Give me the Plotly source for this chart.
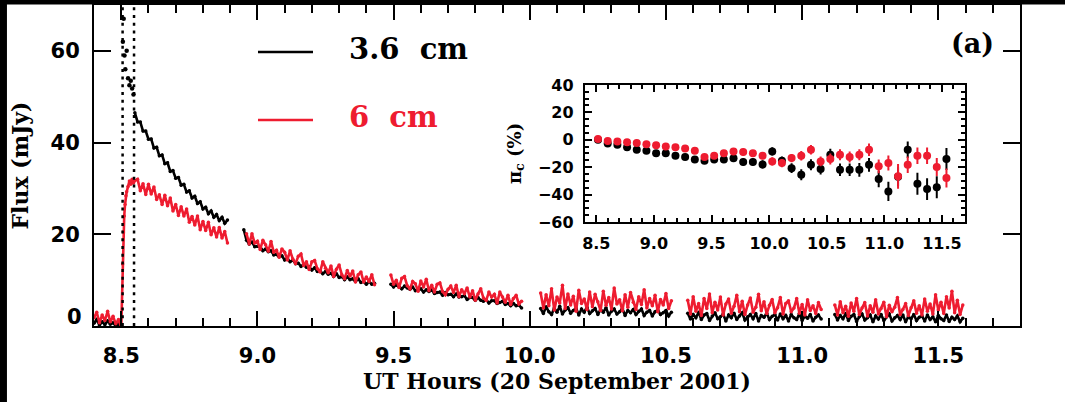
import plotly.graph_objects as go

STEP = 0.01  # hours between samples inside a segment

# ---------------- 3.6 cm light curve (mJy) ----------------
b36_pre_t0 = 8.40
b36_pre = [0.6, 1.4, 0.2, 0.9, 0.3, 1.1, 0.4, 0.7, 0.0, 0.5, -0.8]
b36_spike_t = [8.506, 8.509, 8.512, 8.515, 8.520, 8.525, 8.530, 8.535, 8.540, 8.545]
b36_spike = [62.0, 67.0, 59.0, 56.0, 60.0, 54.0, 52.5, 53.5, 51.8, 50.5]
b36_decay_t0 = 8.55
b36_decay = [46.5, 44.5, 44.5, 42.5, 42.5, 40.7, 40.8, 38.8, 39.0, 37.1, 37.3, 35.4,
             35.6, 33.7, 33.9, 32.2, 32.4, 30.7, 30.9, 29.2, 29.5, 27.9, 28.3, 26.7,
             27.1, 25.5, 25.9, 24.5, 25.1, 23.7, 24.3, 23.0, 23.7, 22.4, 23.1]
b36_s2_t0 = 8.95
b36_s2 = [21.0, 18.7, 17.9, 18.3, 17.3, 17.4, 17.3, 16.4, 16.8, 16.2, 16.4, 15.5, 15.6,
          15.1, 15.3, 14.4, 14.7, 14.0, 14.4, 13.6, 13.7, 13.0, 13.4, 12.8, 12.9, 12.2,
          12.7, 11.9, 12.0, 11.4, 11.9, 11.3, 11.5, 10.8, 11.4, 10.6, 10.8, 10.1, 10.7,
          10.1, 10.3, 9.7, 10.3, 9.5, 9.7, 9.1, 9.7, 9.1, 9.3]
b36_s3_t0 = 9.49
b36_s3 = [9.1, 8.5, 9.1, 8.5, 8.1, 8.7, 8.3, 8.0, 8.5, 7.7, 8.0, 8.1, 7.4, 7.9, 7.5, 7.9,
          7.1, 7.3, 7.4, 6.7, 7.3, 6.8, 6.9, 6.4, 7.0, 6.3, 6.4, 6.6, 5.8, 6.2, 6.2, 5.6,
          6.2, 5.6, 5.4, 5.8, 5.0, 5.5, 5.5, 4.9, 5.1, 5.4, 4.7, 4.9, 4.4, 4.9, 4.4, 4.6, 3.9]
b36_s4_t0 = 10.04
b36_s4 = [3.8, 2.7, 4.2, 3.1, 2.5, 3.9, 3.0, 4.3, 2.6, 3.5, 4.0, 2.8, 3.4, 3.9, 2.4, 3.7,
          3.0, 4.1, 2.7, 3.3, 3.8, 2.5, 3.6, 3.0, 4.0, 2.4, 3.2, 3.7, 2.6, 3.1, 3.8, 2.3,
          3.4, 2.9, 3.6, 2.5, 3.2, 3.7, 2.3, 3.0, 3.4, 2.2, 3.1, 3.5, 2.5, 2.9, 3.4, 2.2, 3.0]
b36_s5_t0 = 10.58
b36_s5 = [2.8, 1.5, 2.5, 1.8, 3.0, 1.4, 2.4, 2.7, 1.2, 2.2, 2.9, 1.6, 2.0, 2.6, 1.1, 2.4,
          1.8, 2.8, 1.4, 2.2, 2.9, 1.3, 2.0, 2.5, 1.6, 2.7, 1.1, 2.3, 1.9, 2.8, 1.4, 2.1,
          2.5, 1.3, 2.6, 1.6, 2.3, 1.1, 2.5, 1.8, 1.4, 2.7, 1.2, 2.1, 1.7, 2.5, 1.1, 1.9, 2.4, 1.5]
b36_s6_t0 = 11.12
b36_s6 = [2.5, 1.3, 2.3, 1.6, 2.7, 1.2, 2.1, 2.5, 1.0, 2.0, 2.6, 1.3, 1.8, 2.4, 0.9, 2.2,
          1.5, 2.5, 1.2, 2.0, 2.6, 1.1, 1.8, 2.3, 1.4, 2.4, 0.9, 2.0, 1.6, 2.5, 1.2, 1.9,
          2.2, 1.1, 2.4, 1.4, 2.0, 0.9, 2.3, 1.6, 1.2, 2.4, 1.0, 1.9, 1.4, 2.2, 0.9, 1.7]

# ---------------- 6 cm light curve (mJy) ----------------
r6_pre_t0 = 8.40
r6_pre = [1.8, 3.0, 0.7, 2.4, 1.2, 3.2, 0.9, 2.1, 0.5, 1.4, -0.3]
r6_rise_t = [8.505, 8.508, 8.511, 8.514, 8.517, 8.520, 8.525, 8.530, 8.535, 8.540, 8.545, 8.550]
r6_rise = [13.5, 20.5, 24.0, 26.5, 28.4, 29.3, 30.4, 31.6, 30.9, 32.0, 31.2, 31.7]
r6_decay_t0 = 8.56
r6_decay = [32.0, 29.5, 31.0, 28.7, 30.9, 28.8, 30.3, 27.6, 28.6, 26.5, 28.5, 26.2, 27.9,
            25.1, 26.5, 24.1, 26.0, 24.0, 25.5, 22.6, 23.9, 22.0, 24.0, 21.0, 22.8, 20.8,
            22.6, 19.9, 21.4, 19.4, 21.5, 19.2, 20.6, 18.1]
r6_s2_t0 = 8.96
r6_s2 = [20.1, 17.9, 20.1, 18.1, 18.5, 16.7, 18.7, 17.7, 16.3, 18.4, 16.1, 16.5, 15.0,
         16.8, 16.1, 14.4, 16.4, 14.6, 13.6, 15.2, 15.7, 13.2, 14.0, 12.3, 14.0, 14.3,
         12.5, 11.8, 14.0, 12.6, 11.6, 13.1, 10.8, 12.4, 13.3, 11.2, 10.3, 12.1, 10.9,
         12.0, 9.6, 11.2, 11.8, 9.6, 10.7, 9.7, 11.2, 9.0]
r6_s3_t0 = 9.49
r6_s3 = [11.1, 9.1, 10.0, 8.4, 10.4, 10.8, 8.8, 8.1, 9.7, 9.2, 7.6, 9.8, 8.5, 10.2, 7.7,
         8.9, 7.4, 9.1, 9.4, 7.5, 6.8, 8.0, 8.7, 7.3, 8.9, 6.4, 7.9, 7.1, 8.3, 6.3, 7.7,
         5.6, 7.0, 8.1, 6.1, 5.6, 7.4, 6.3, 6.9, 5.0, 7.4, 6.3, 5.2, 6.7, 4.7, 6.0, 6.7, 4.8, 5.4]
r6_s4_t0 = 10.04
r6_s4 = [7.2, 3.9, 6.8, 4.4, 8.1, 3.5, 6.3, 5.0, 8.9, 3.8, 7.0, 4.6, 6.5, 3.2, 7.8, 4.9,
         5.9, 3.6, 7.4, 4.2, 6.9, 5.3, 3.4, 7.6, 4.5, 6.2, 3.7, 8.3, 4.8, 5.7, 3.3, 6.8,
         4.1, 7.3, 5.2, 3.6, 6.4, 4.7, 7.9, 3.9, 6.0, 4.4, 6.7, 3.1, 5.8, 4.6, 7.1, 3.8, 5.5]
r6_s5_t0 = 10.58
r6_s5 = [5.6, 2.6, 6.4, 3.2, 4.9, 2.3, 6.0, 3.8, 7.0, 2.9, 5.2, 3.5, 6.3, 2.4, 4.8, 5.9,
         2.8, 4.3, 6.7, 3.1, 5.4, 2.5, 4.6, 6.1, 3.0, 4.1, 6.9, 3.3, 5.3, 2.7, 4.5, 5.8,
         2.9, 4.0, 6.2, 2.6, 4.9, 5.5, 3.1, 3.9, 6.0, 2.8, 4.7, 2.4, 5.7, 3.4, 4.4, 2.7, 5.1, 3.6]
r6_s6_t0 = 11.12
r6_s6 = [4.6, 2.4, 5.3, 2.9, 4.3, 2.1, 5.0, 3.2, 6.0, 2.5, 3.9, 5.1, 2.2, 4.4, 3.0, 5.7,
         2.6, 3.8, 5.2, 2.0, 4.5, 3.1, 4.1, 6.2, 2.5, 3.6, 4.9, 2.3, 4.0, 5.5, 2.8, 4.4,
         2.4, 5.9, 3.2, 4.8, 2.6, 6.8, 3.5, 5.2, 2.7, 6.4, 3.9, 7.6, 2.9, 5.6, 2.5, 4.6]

# flare markers (UT hours)
flare_marks = [8.505, 8.547]

# ---------------- inset: circular polarization (%) ----------------
pol_t = [8.515, 8.599, 8.683, 8.767, 8.851, 8.935, 9.019, 9.103, 9.187, 9.271, 9.355,
         9.439, 9.523, 9.607, 9.691, 9.775, 9.859, 9.943, 10.027, 10.111, 10.195, 10.279,
         10.363, 10.447, 10.531, 10.615, 10.699, 10.783, 10.867, 10.951, 11.035, 11.119,
         11.203, 11.287, 11.371, 11.455, 11.539]
pol_36 = [0.0, -2.7, -3.6, -5.4, -7.2, -8.1, -9.9, -9.9, -11.7, -12.6, -14.4, -15.3,
          -14.4, -14.4, -13.5, -16.2, -16.2, -18.0, -8.5, -15.3, -20.7, -25.5, -18.3,
          -21.4, -11.0, -21.9, -21.9, -21.9, -18.3, -28.7, -37.7, -27.0, -7.3, -32.1,
          -36.0, -34.6, -14.1]
err_36 = [1.5, 1.5, 1.5, 1.5, 1.5, 2, 2, 2, 2, 2, 2, 2, 2.5, 2.5, 2.5, 2.5, 2.5, 3, 3, 3,
          3.5, 4, 4, 4, 4.5, 4.5, 4.5, 5, 5, 6, 7, 7, 6, 8, 8, 8, 8]
pol_6 = [0.5, -0.9, -1.3, -1.8, -2.3, -3.2, -4.0, -5.0, -5.4, -6.3, -8.1, -12.6, -11.7,
         -9.9, -8.6, -9.0, -9.9, -11.7, -15.8, -17.0, -13.4, -11.7, -7.3, -15.8, -14.1,
         -11.0, -12.6, -11.0, -7.3, -19.4, -17.0, -26.7, -18.3, -11.7, -11.7, -19.9, -27.9]
err_6 = [1, 1, 1, 1, 1.5, 1.5, 1.5, 1.5, 1.5, 2, 2, 2, 2, 2, 2, 2.5, 2.5, 2.5, 3, 3, 3,
         3.5, 3.5, 3.5, 4, 4, 4, 4, 4.5, 5, 5.5, 9, 6, 6, 6, 6.5, 7]

flux_ticks = [0, 20, 40, 60]
pol_ticks = [-60, -40, -20, 0, 20, 40]

BLACK = "#000000"
RED = "#ee1c30"


def grid(t0, vals):
    return [round(t0 + STEP * i, 4) for i in range(len(vals))]


def join(parts):
    xs, ys = [], []
    for i, (t, v) in enumerate(parts):
        if i:
            xs.append(None)
            ys.append(None)
        xs.extend(t)
        ys.extend(v)
    return xs, ys


bx, by = join([
    (grid(b36_pre_t0, b36_pre), b36_pre),
    (grid(b36_decay_t0, b36_decay), b36_decay),
    (grid(b36_s2_t0, b36_s2), b36_s2),
    (grid(b36_s3_t0, b36_s3), b36_s3),
    (grid(b36_s4_t0, b36_s4), b36_s4),
    (grid(b36_s5_t0, b36_s5), b36_s5),
    (grid(b36_s6_t0, b36_s6), b36_s6),
])
rx, ry = join([
    (grid(r6_pre_t0, r6_pre) + r6_rise_t + grid(r6_decay_t0, r6_decay),
     r6_pre + r6_rise + r6_decay),
    (grid(r6_s2_t0, r6_s2), r6_s2),
    (grid(r6_s3_t0, r6_s3), r6_s3),
    (grid(r6_s4_t0, r6_s4), r6_s4),
    (grid(r6_s5_t0, r6_s5), r6_s5),
    (grid(r6_s6_t0, r6_s6), r6_s6),
])

fig = go.Figure()
fig.add_trace(go.Scatter(x=bx, y=by, mode="lines+markers", name="3.6 cm",
                         line=dict(color=BLACK, width=2.6),
                         marker=dict(color=BLACK, size=3.5),
                         connectgaps=False, xaxis="x", yaxis="y"))
fig.add_trace(go.Scatter(x=b36_spike_t, y=b36_spike, mode="markers", name="3.6 cm peak",
                         marker=dict(color=BLACK, size=4.5), xaxis="x", yaxis="y"))
fig.add_trace(go.Scatter(x=rx, y=ry, mode="lines+markers", name="6 cm",
                         line=dict(color=RED, width=2.6),
                         marker=dict(color=RED, size=3.5),
                         connectgaps=False, xaxis="x", yaxis="y"))

fig.add_trace(go.Scatter(x=pol_t, y=pol_36, mode="markers", xaxis="x2", yaxis="y2",
                         marker=dict(color=BLACK, size=8),
                         error_y=dict(type="data", array=err_36, color=BLACK,
                                      thickness=2, width=0)))
fig.add_trace(go.Scatter(x=pol_t, y=pol_6, mode="markers", xaxis="x2", yaxis="y2",
                         marker=dict(color=RED, size=8),
                         error_y=dict(type="data", array=err_6, color=RED,
                                      thickness=2, width=0)))

TICKFONT = dict(family="DejaVu Sans", size=21, color="black", weight="bold")
TITLEFONT = dict(family="DejaVu Serif", size=22, color="black", weight="bold")
INSETFONT = dict(family="DejaVu Sans", size=16, color="black", weight="bold")

fig.update_layout(
    width=1065, height=402,
    margin=dict(l=94, r=45, t=5, b=76, autoexpand=False),
    paper_bgcolor="white", plot_bgcolor="white",
    showlegend=False,
    xaxis=dict(range=[8.4, 11.8], tick0=8.5, dtick=0.5, tickformat=".1f",
               ticks="inside", ticklen=15, tickwidth=2, tickcolor="black",
               minor=dict(ticks="inside", dtick=0.1, tick0=8.5, ticklen=8,
                          tickwidth=2, tickcolor="black"),
               showline=True, linewidth=2, linecolor="black", mirror="ticks",
               showgrid=False, zeroline=False, tickfont=TICKFONT,
               ticklabelstandoff=10, automargin=False,
               title=dict(text="UT Hours (20 September 2001)", font=TITLEFONT,
                          standoff=6)),
    yaxis=dict(range=[0, 70], tickvals=flux_ticks,
               ticktext=["" if v == 0 else str(v) for v in flux_ticks],
               ticks="inside", ticklen=17, tickwidth=2, tickcolor="black",
               showline=True, linewidth=2, linecolor="black", mirror="ticks",
               showgrid=False, zeroline=False, tickfont=TICKFONT,
               ticklabelstandoff=8, automargin=False,
               title=dict(text="Flux (mJy)", font=TITLEFONT, standoff=16)),
    xaxis2=dict(domain=[0.530, 0.9406], anchor="y2", range=[8.4, 11.7],
                tick0=8.5, dtick=0.5, tickformat=".1f",
                ticks="inside", ticklen=7, tickwidth=1.5, tickcolor="black",
                minor=dict(ticks="inside", dtick=0.1, tick0=8.5, ticklen=4,
                           tickwidth=1.5, tickcolor="black"),
                showline=True, linewidth=2, linecolor="black", mirror="ticks",
                showgrid=False, zeroline=False, tickfont=INSETFONT,
                ticklabelstandoff=6, automargin=False),
    yaxis2=dict(domain=[0.324, 0.751], anchor="x2", range=[-60, 40],
                tickvals=pol_ticks,
                ticks="inside", ticklen=7, tickwidth=1.5, tickcolor="black",
                minor=dict(ticks="inside", dtick=5, tick0=0, ticklen=4,
                           tickwidth=1.5, tickcolor="black"),
                showline=True, linewidth=2, linecolor="black", mirror="ticks",
                showgrid=False, zeroline=False, tickfont=INSETFONT,
                ticklabelstandoff=6, automargin=False,
                title=dict(text="π<sub>c</sub> (%)",
                           font=dict(family="DejaVu Serif", size=18,
                                     color="black", weight="bold"),
                           standoff=12)),
)

shapes = []
for xm in flare_marks:
    shapes.append(dict(type="line", xref="x", yref="paper", x0=xm, x1=xm, y0=0, y1=1,
                       line=dict(color="black", width=2.5, dash="3px,4.7px")))
shapes.append(dict(type="line", xref="x2 domain", yref="y2", x0=0, x1=1, y0=0, y1=0,
                   line=dict(color="black", width=2, dash="14px,19px"), layer="below"))
# legend swatches
shapes.append(dict(type="line", xref="paper", yref="paper", x0=0.1771, x1=0.2365,
                   y0=0.8536, y1=0.8536, line=dict(color=BLACK, width=2.5)))
shapes.append(dict(type="line", xref="paper", yref="paper", x0=0.1771, x1=0.2365,
                   y0=0.6417, y1=0.6417, line=dict(color=RED, width=2.5)))
# dark scan border of the original figure
shapes.append(dict(type="rect", xref="paper", yref="paper", x0=-0.12, x1=-0.094,
                   y0=-0.3, y1=1.1, fillcolor="black", line=dict(width=0), layer="above"))
shapes.append(dict(type="rect", xref="paper", yref="paper", x0=-0.12, x1=1.1,
                   y0=1.0016, y1=1.1, fillcolor="black", line=dict(width=0), layer="above"))
fig.update_layout(shapes=shapes)

LEGFONT = dict(family="DejaVu Serif", size=29, weight="bold")
fig.update_layout(annotations=[
    dict(text="3.6\u00a0\u00a0cm", xref="paper", yref="paper", x=0.2732, y=0.862,
         xanchor="left", yanchor="middle", showarrow=False,
         font=dict(LEGFONT, color=BLACK)),
    dict(text="6\u00a0\u00a0cm", xref="paper", yref="paper", x=0.2732, y=0.650,
         xanchor="left", yanchor="middle", showarrow=False,
         font=dict(LEGFONT, color=RED)),
    dict(text="(a)", xref="paper", yref="paper", x=0.9492, y=0.8816,
         xanchor="center", yanchor="middle", showarrow=False,
         font=dict(family="DejaVu Serif", size=27, weight="bold", color="black")),
    # lowest flux label sits slightly above the axis, as in the original
    dict(text=str(flux_ticks[0]), xref="paper", yref="paper", x=-0.0105, y=0.028,
         xanchor="right", yanchor="middle", showarrow=False, font=TICKFONT),
])

fig.write_html("out.html")
